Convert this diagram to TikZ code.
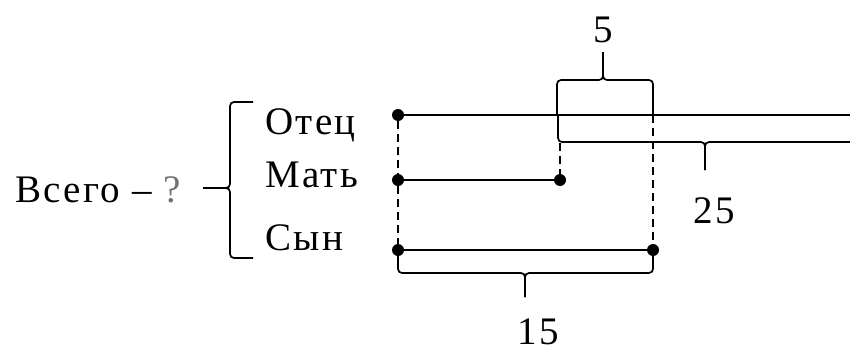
\documentclass[tikz,border=0pt]{standalone}
\usepackage{fontspec}
\setmainfont{Liberation Serif}[LetterSpace=6]
\begin{document}
\begin{tikzpicture}[x=1pt,y=-1pt,
  seg/.style={line width=2.4pt},
  guide/.style={line width=1.5pt, dash pattern=on 8pt off 5pt},
  brc/.style={line width=1.7pt, rounded corners=4pt},
  dot/.style={circle, fill, inner sep=0pt, minimum size=12pt},
  lbl/.style={font=\fontsize{39}{42}\selectfont, inner sep=0pt, text depth=0pt, anchor=base west},
  num/.style={font=\fontsize{39}{42}\selectfont, inner sep=0pt, text depth=0pt, anchor=base}]
\useasboundingbox (0,0) rectangle (850,351);

% segment end points
\node[dot] (f0) at (398,115) {};
\coordinate (f1) at (850,115);
\node[dot] (m0) at (398,180) {};
\node[dot] (m1) at (560,180) {};
\node[dot] (s0) at (398,250) {};
\node[dot] (s1) at (653,250) {};

% segments
\draw[seg] (f0.center) -- (f1);
\draw[seg] (m0.center) -- (m1.center);
\draw[seg] (s0.center) -- (s1.center);

% dashed guides
\coordinate (mtop) at (560,143);
\coordinate (stop) at (653,115);
\draw[guide] (f0) -- (m0);
\draw[guide] (m0) -- (s0);
\draw[guide] (mtop) -- (m1);
\draw[guide] (stop) -- (s1);

% brace "5"
\coordinate (b5l) at (557,115);
\coordinate (b5r) at (653,115);
\coordinate (b5m) at (603,80);
\coordinate (b5t) at (603,52);
\draw[brc] (b5l) |- (b5m) -- (b5t);
\draw[brc] (b5r) |- (b5m) -- (b5t);
\node[num] (n5) at (603,42) {5};

% brace "25"
\coordinate (b25l) at (558,115);
\coordinate (b25r) at (850,142);
\coordinate (b25m) at (705,142);
\coordinate (b25t) at (705,170);
\draw[brc] (b25l) |- (b25m) -- (b25t);
\draw[brc] (b25r) -- (b25m) -- (b25t);
\node[num] (n25) at (714,223) {25};

% brace "15"
\coordinate (b15l) at (398,250);
\coordinate (b15r) at (653,250);
\coordinate (b15m) at (525,273);
\coordinate (b15t) at (525,297);
\draw[brc] (b15l) |- (b15m) -- (b15t);
\draw[brc] (b15r) |- (b15m) -- (b15t);
\node[num] (n15) at (538,344) {15};

% left brace
\coordinate (lbt) at (253,102);
\coordinate (lbb) at (253,258);
\coordinate (lbm) at (230,188);
\coordinate (lbtip) at (203,188);
\draw[brc] (lbt) -| (lbm) -- (lbtip);
\draw[brc] (lbb) -| (lbm) -- (lbtip);

% names
\node[lbl] (otec) at (265,134) {Отец};
\node[lbl] (mat) at (265,187) {Мать};
\node[lbl] (syn) at (265,250) {Сын};
\node[lbl] (all) at (15,202) {Всего – \textcolor{black!55}{?}};
\end{tikzpicture}
\end{document}
